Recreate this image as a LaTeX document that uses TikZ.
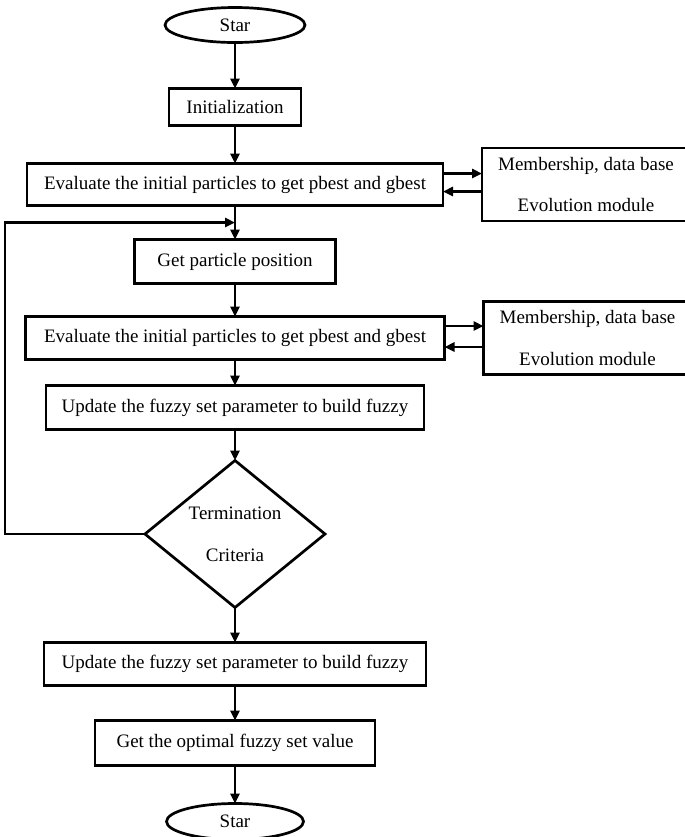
\documentclass[tikz,border=0pt]{standalone}
\usepackage{fontspec}
\setmainfont{Liberation Serif}
\usetikzlibrary{positioning, shapes.geometric, arrows.meta, calc}

\begin{document}
\begin{tikzpicture}[
    font=\fontsize{9.5}{11.4}\selectfont,
    line width=1.35pt,
    every node/.style={outer sep=0pt},
    box/.style={
      draw,
      inner sep=0pt,
      align=center
    },
    terminal/.style={
      ellipse,
      draw,
      minimum width=70pt,
      minimum height=17.5pt,
      inner sep=0pt
    },
    decision/.style={
      diamond,
      draw,
      aspect=1.22,
      inner sep=0pt,
      minimum width=90pt,
      minimum height=73.5pt,
      align=center
    },
    module/.style={
      draw,
      minimum width=104pt,
      minimum height=36.5pt,
      align=center
    },
    arrow/.style={-{Triangle[length=5pt, width=4.5pt]}},
]

\useasboundingbox (0,0) rectangle (342.5pt,-418.5pt);

% Main flow
\node[terminal] (start) at (117.5pt,-12.5pt) {Star};
\node[box, minimum width=66pt, minimum height=18.5pt, below=23pt of start] (init) {Initialization};
\node[box, minimum width=208pt, minimum height=21pt, below=19pt of init] (eval1) {Evaluate the initial particles to get pbest and gbest};
\node[box, minimum width=100.5pt, minimum height=22pt, below=17pt of eval1] (getpos) {Get particle position};
\node[box, minimum width=209.5pt, minimum height=21.5pt, below=16.5pt of getpos] (eval2) {Evaluate the initial particles to get pbest and gbest};
\node[box, minimum width=189pt, minimum height=22pt, below=13pt of eval2] (update1) {Update the fuzzy set parameter to build fuzzy};
\node[decision, below=15.5pt of update1] (crit) {Termination\\[9.6pt]Criteria};
\node[box, minimum width=191pt, minimum height=21.5pt, below=17.5pt of crit] (update2) {Update the fuzzy set parameter to build fuzzy};
\node[box, minimum width=140pt, minimum height=22.5pt, below=17.5pt of update2] (getopt) {Get the optimal fuzzy set value};
\node[terminal, minimum width=68.5pt, minimum height=18pt, below=19pt of getopt] (stop) {Star};

% Side modules
\node[module, right=19.5pt of eval1] (member1) {Membership, data base\\[9.5pt]Evolution module};
\node[module, right=19.5pt of eval2] (member2) {Membership, data base\\[9.5pt]Evolution module};

% Arrows
\draw[arrow] (start) -- (init);
\draw[arrow] (init) -- (eval1);
\draw[arrow] (eval1) -- (getpos);
\draw[arrow] (getpos) -- (eval2);
\draw[arrow] (eval2) -- (update1);
\draw[arrow] (update1) -- (crit);
\draw[arrow] (crit) -- (update2);
\draw[arrow] (update2) -- (getopt);
\draw[arrow] (getopt) -- (stop);

\draw[arrow] ([yshift=5.5pt]eval1.east) -- ([yshift=5.5pt]member1.west);
\draw[arrow] ([yshift=-3.5pt]member1.west) -- ([yshift=-3.5pt]eval1.east);
\draw[arrow] ([yshift=6pt]eval2.east) -- ([yshift=6pt]member2.west);
\draw[arrow] ([yshift=-4.5pt]member2.west) -- ([yshift=-4.5pt]eval2.east);

% Loop back
\coordinate (back) at ($(eval1.south)!0.5!(getpos.north)$);
\draw[arrow] (crit.west) -- ++(-70pt,0) |- (back);

\end{tikzpicture}
\end{document}
